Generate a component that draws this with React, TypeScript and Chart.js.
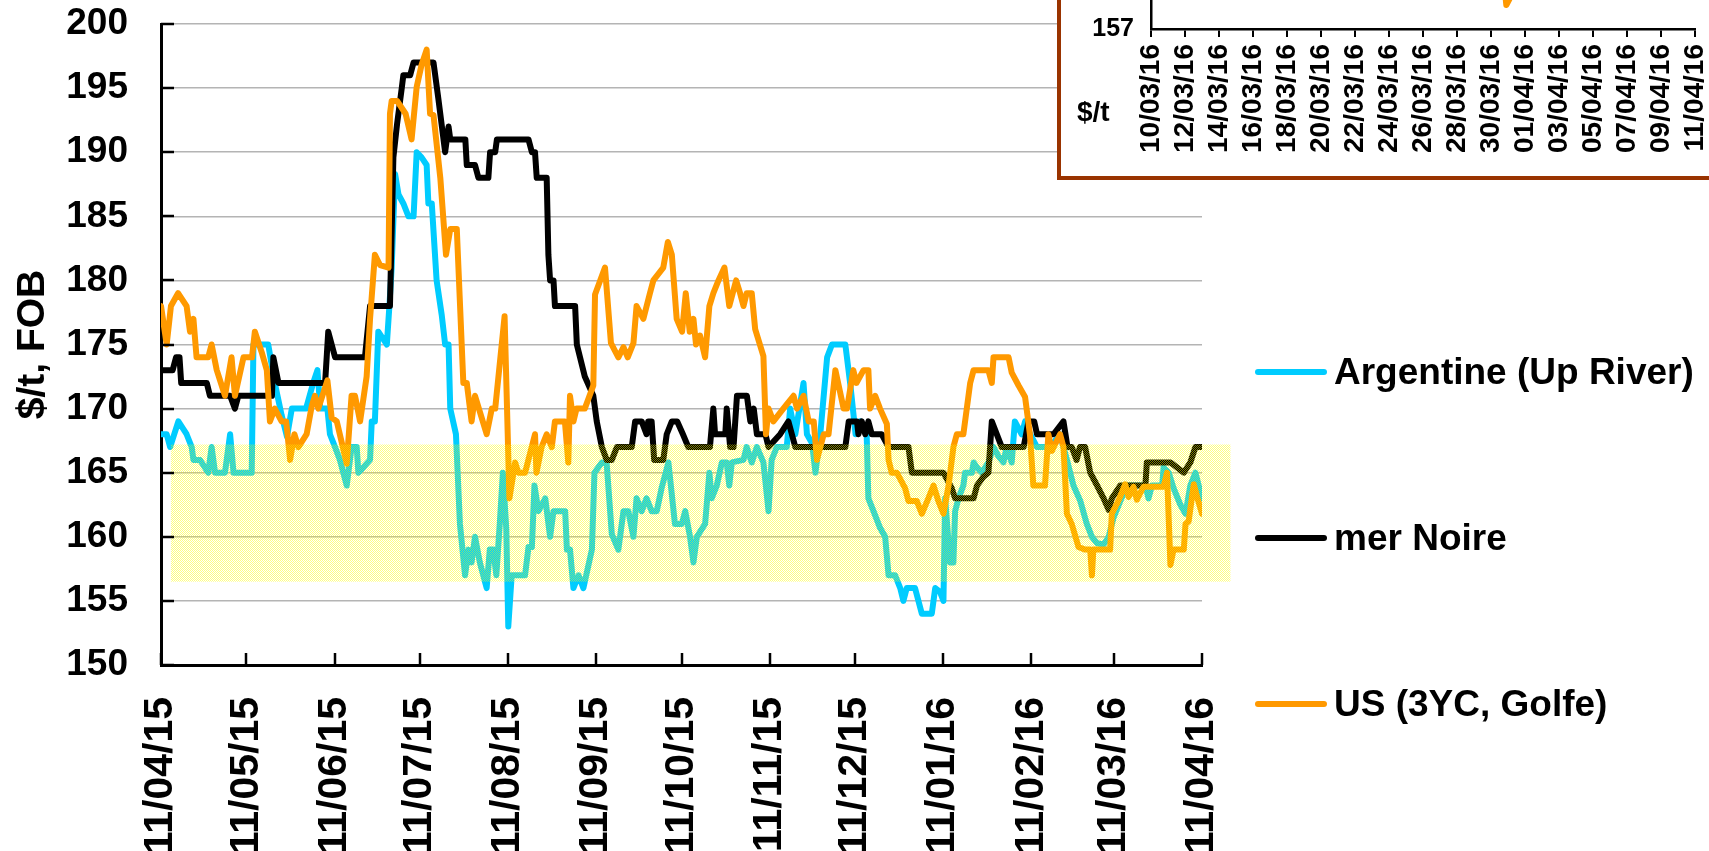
import React, { useEffect, useRef } from 'react';
import { Chart, registerables } from 'chart.js';

Chart.register(...registerables);

const FONT = "'Liberation Sans', Arial, Helvetica, sans-serif";

// ---- Main chart axis data (x = days since 11/04/15) ----
const monthTickDays = [0, 30, 61, 91, 122, 153, 183, 214, 244, 275, 306, 335, 366];
const monthTickLabels = [
  '11/04/15', '11/05/15', '11/06/15', '11/07/15', '11/08/15', '11/09/15', '11/10/15',
  '11/11/15', '11/12/15', '11/01/16', '11/02/16', '11/03/16', '11/04/16',
];
const yMin = 150;
const yMax = 200;
const yStep = 5;

const seriesNames = ['Argentine (Up River)', 'mer Noire', 'US (3YC, Golfe)'];
const seriesColors = ['#00CCFF', '#000000', '#FF9900'];

// [day, $/t]
const argentinePoints: [number, number][] = [
  [0, 168], [2, 168], [3.2, 167], [6.1, 169], [9, 168], [10.8, 167], [11.4, 166], [13.7, 166], [16.6, 165], [17.8, 167],
  [19, 165], [22.5, 165], [24.3, 168], [25.5, 165], [31.9, 165], [32.5, 175], [37.7, 175], [40, 172], [42.4, 169.5], [44.3, 167.8],
  [46, 170], [51, 170], [53.5, 172], [55, 173], [56, 170], [58.5, 170], [59.4, 168], [61.2, 167], [62.9, 166], [65.3, 164],
  [67, 167], [68.8, 167], [69.4, 165], [71.1, 165.4], [73.5, 166], [74.1, 169], [75.2, 169], [76.4, 176], [78.2, 175.4], [79.4, 175],
  [80.3, 178], [81.1, 181], [82.3, 188.3], [83.5, 186.7], [85.2, 186], [87, 185], [88.8, 185], [89.9, 190], [91.6, 189.6], [93.4, 189],
  [94, 186], [95.2, 186], [96.9, 180], [98.7, 177.3], [99.9, 175], [101.1, 175], [101.7, 170], [103.7, 168], [105.1, 161], [106.9, 157],
  [108.1, 159], [109.2, 158], [110.4, 160], [112.1, 158], [114.5, 156], [115.6, 159], [116.8, 159], [117.9, 157], [119.1, 161], [120.2, 165],
  [121.4, 160.6], [122.1, 153], [123.3, 157], [128, 157], [129.2, 159.2], [130.4, 159.2], [131.3, 164], [132.7, 162], [135.1, 163], [136.8, 160],
  [138, 162], [142.1, 162], [142.7, 159], [143.8, 159], [145, 156], [146.8, 157], [148.5, 156], [151.5, 159], [152.4, 165], [155, 165.8],
  [156.7, 165.7], [158.5, 160.2], [160.8, 159], [162.6, 162], [164.3, 162], [166.1, 160], [167.2, 163], [169, 162], [170.7, 163], [172.5, 162],
  [174.3, 162], [176, 163.8], [178.4, 165.8], [180.7, 161], [183.1, 161], [184.3, 162], [186, 160], [187.2, 158], [188.4, 160], [191.3, 161],
  [192.8, 165], [193.6, 163], [195.4, 164], [197.2, 165.8], [198.9, 165.8], [199.8, 164], [200.7, 165.8], [204.8, 166], [205.9, 167], [207.7, 165.8],
  [209.5, 167], [211.8, 165.8], [213.6, 162], [214.7, 166], [216.5, 167], [220, 167], [221.2, 170], [223, 168], [225.9, 172], [227.1, 168],
  [228.9, 167.3], [230.1, 165], [231.8, 168], [234.2, 174], [235.9, 175], [240.6, 175], [242.4, 171.8], [244.2, 168], [245.8, 169], [248.1, 168],
  [248.7, 163], [250.5, 162], [252.8, 160.7], [254.6, 160], [255.8, 157], [258.1, 157], [259.9, 156], [261, 155], [262.2, 156], [265.1, 156],
  [267.5, 154], [271, 154], [272.2, 156], [273.9, 155.7], [275.1, 155], [275.7, 163], [277.4, 158], [278.6, 158], [279.2, 162], [280.4, 163],
  [282.1, 164], [282.7, 165], [285.1, 165], [285.7, 165.8], [286.9, 165.4], [288.6, 165], [290.9, 165.8], [292.7, 167], [294.4, 166.3], [296.2, 165.8],
  [297.3, 167], [299.1, 165.8], [300.2, 169], [302.6, 168], [303.8, 169], [305.6, 168], [308, 167], [312.6, 167], [316.1, 168], [318.5, 166],
  [320.8, 164], [323.2, 162.8], [325.5, 161], [327.3, 160], [329.1, 159.5], [331.4, 159.4], [333.2, 160], [334.9, 161.5], [337.3, 162.8], [339.6, 164],
  [343.1, 164], [346.1, 164], [347.2, 163], [348.4, 164], [352, 164], [352.5, 165.4], [354.3, 165], [356, 163.8], [358.4, 162.5], [360.2, 161.8],
  [361.9, 164], [363.7, 165], [366, 163],
];

const merNoirePoints: [number, number][] = [
  [0, 173], [4.1, 173], [5.3, 174], [6.5, 174], [7.1, 172], [16.1, 172], [17.2, 171], [24.3, 171], [26, 170], [27.2, 171],
  [39, 171], [39.5, 174], [41.3, 172], [57.7, 172], [58.8, 176], [60, 175], [61.2, 174], [71.7, 174], [73.5, 178], [80.5, 178],
  [81.7, 189.6], [83, 192.2], [84.7, 195.1], [85.2, 196], [87.6, 196], [88.8, 197], [95.8, 197], [97.5, 194.2], [99.9, 190], [101.1, 192],
  [101.7, 191], [107, 191], [107.5, 189], [110.4, 189], [111.6, 188], [115.1, 188], [115.7, 190], [117.5, 190], [118.1, 191], [129.2, 191],
  [130.4, 190], [131.5, 190], [132.1, 188], [135.6, 188], [136.2, 182], [136.8, 180], [138, 180], [138.5, 178], [145.6, 178], [146.2, 175],
  [149, 172.5], [152, 171], [153.2, 169], [155, 167], [156.7, 166], [158.5, 166], [160.3, 167], [165.5, 167], [166.7, 169], [169, 169],
  [170.7, 168], [171.3, 169], [172.5, 169], [173.4, 166], [176.6, 166], [177.8, 168], [179.6, 169], [181.5, 169], [183.5, 168], [185.4, 167],
  [193, 167], [194.2, 170], [194.8, 168], [198.4, 168], [198.9, 170], [200.1, 167], [201.3, 167], [202.5, 171], [206, 171], [207.2, 169],
  [208.4, 170], [209.5, 168], [212.5, 168], [213.6, 167], [217.7, 168], [220.6, 169], [223, 167], [240.6, 167], [241.8, 169], [244.7, 169],
  [245.2, 168], [246.4, 169], [247.6, 168], [248.7, 169], [249.9, 168], [253.4, 168], [255.8, 167], [262.8, 167], [264, 165], [275.1, 165],
  [278, 163.8], [279.2, 163], [285.7, 163], [286.9, 164], [289.2, 164.7], [290.9, 165], [292.1, 169], [295.6, 167], [303.3, 167], [305, 169],
  [307, 169], [308, 168], [313.8, 168], [317.3, 169], [318.7, 167], [320.2, 167], [321.9, 166], [323.1, 167], [324.9, 167], [326.7, 165],
  [329.1, 164], [331.4, 163], [333.2, 162.1], [334.3, 163], [337.3, 164], [346.1, 164], [346.6, 165.8], [354.9, 165.8], [359.6, 165], [361.9, 165.8],
  [363.7, 167], [366, 167],
];

const usGolfePoints: [number, number][] = [
  [0, 178], [2, 175], [3.5, 178], [6, 179], [9, 178], [10.2, 176], [11.4, 177], [12.5, 174], [16.6, 174], [17.8, 175],
  [19.6, 173], [22.5, 171], [24.8, 174], [26, 171], [29, 174], [32, 174], [33, 176], [35.4, 174.4], [37.2, 173], [38.3, 169],
  [40, 170], [42.4, 169], [44, 169], [45.4, 166], [46.9, 168], [48.3, 167], [51.2, 168], [53, 170.2], [54.1, 171], [55.3, 170],
  [58.5, 172.2], [60, 169.3], [61.8, 169], [65.3, 165.7], [67, 171], [68.2, 171], [70, 169], [72.3, 172.5], [73.5, 177], [75.2, 182],
  [77, 181.2], [80, 181], [80.5, 193], [81.1, 194], [83, 194], [86, 193], [88.1, 191], [89.9, 195.1], [91.6, 196.8], [93.4, 198],
  [94.6, 193], [95.8, 192.9], [98.2, 188], [100.2, 182], [101.7, 184], [104, 184], [106.3, 172], [107.5, 172], [109.2, 169], [110.4, 171],
  [114.5, 168], [116.3, 170], [117.5, 170], [120.8, 177.2], [122.5, 163], [124.5, 165.8], [125.6, 165], [128, 165], [131.5, 168], [132, 165],
  [133.8, 167], [135.6, 168], [137.4, 167], [138.5, 169], [142, 169], [143.2, 165.8], [143.8, 171], [145, 169], [146.1, 170], [149, 170],
  [152, 171.8], [152.6, 178.9], [156.1, 181], [158.2, 175.1], [160.8, 174], [162.6, 174.8], [164.1, 174], [166.1, 175.1], [167.2, 178], [169.6, 177],
  [171.9, 179], [173.1, 180], [176.6, 181], [178.2, 183], [179.6, 182], [181.3, 177], [183.2, 176], [184.5, 179], [185.9, 176], [187.2, 177],
  [188.1, 175], [189.5, 175.7], [191.3, 174], [192.8, 178], [194.2, 179], [196, 180], [198.1, 181], [199.8, 178], [202.2, 180], [203.6, 179],
  [204.8, 178], [205.9, 179], [207.7, 179], [208.9, 176.2], [211.8, 174.1], [212.7, 168], [213.6, 170], [215.3, 169], [218.8, 170], [222.4, 171],
  [223.6, 170], [225.9, 171], [227.7, 169], [229.5, 169], [230.6, 166], [233, 168], [234.7, 168], [237.1, 173], [240, 170], [241.2, 170],
  [243.4, 173], [244.5, 172], [247, 173], [248.7, 173], [249.3, 170], [251.1, 171], [252.8, 170], [255.2, 168.8], [255.8, 166], [256.9, 165],
  [258.7, 165], [261.6, 163.8], [262.8, 162.8], [265.7, 162.8], [267.5, 161.8], [269.8, 163], [271.6, 164], [273.3, 162.8], [275.1, 161.8], [276.9, 164],
  [278.6, 167], [279.8, 168], [282.1, 168], [283.3, 170], [284.5, 172], [285.7, 173], [290.9, 173], [292.1, 172], [292.7, 174], [298, 174],
  [299.1, 172.8], [301.5, 171.8], [303.8, 170.9], [305.5, 168], [306.7, 164], [310.8, 164], [312, 168], [313.2, 166.7], [316.1, 168], [317.3, 167],
  [318.5, 161.8], [320.2, 161], [322.6, 159.2], [324.9, 159], [326.7, 159], [327.3, 157], [327.8, 159], [333.7, 159], [334.3, 161.8], [336.6, 162.8],
  [339, 164.1], [340.2, 163.1], [341.9, 163.9], [343.1, 162.9], [345.4, 163.9], [352.5, 163.9], [353.7, 165], [354.9, 157.8], [356, 159], [359.6, 159],
  [360.2, 161], [361.3, 161.2], [363.1, 164.1], [364.3, 163.1], [366, 161.8],
];

// highlighted band (days, $/t)
const bandDays = [3.5, 376];
const bandLimits = [156.5, 167.2];

// ---- Inset axis data ----
const insetTickDays = [334, 336, 338, 340, 342, 344, 346, 348, 350, 352, 354, 356, 358, 360, 362, 364, 366];
const insetTickLabels = [
  '10/03/16', '12/03/16', '14/03/16', '16/03/16', '18/03/16', '20/03/16', '22/03/16', '24/03/16', '26/03/16',
  '28/03/16', '30/03/16', '01/04/16', '03/04/16', '05/04/16', '07/04/16', '09/04/16', '11/04/16',
];
const insetYMin = 157;
const insetYMax = 168;

const allSeries = [argentinePoints, merNoirePoints, usGolfePoints];
const drawOrder = [2, 1, 0];

function makeDatasets() {
  return allSeries.map((pts, i) => ({
    label: seriesNames[i],
    data: pts.map(([d, v]) => ({ x: d, y: v })),
    borderColor: seriesColors[i],
    backgroundColor: seriesColors[i],
    borderWidth: 6,
    pointRadius: 0,
    tension: 0,
    borderJoinStyle: 'round' as const,
    borderCapStyle: 'round' as const,
    order: drawOrder[i],
  }));
}

const bandPlugin = {
  id: 'band',
  afterDatasetsDraw(chart: any) {
    const { ctx, scales } = chart;
    const x = scales.x;
    const y = scales.y;
    const pc = document.createElement('canvas');
    pc.width = 2;
    pc.height = 2;
    const pctx = pc.getContext('2d')!;
    pctx.fillStyle = 'rgba(255,255,0,0.5)';
    pctx.fillRect(0, 0, 1, 1);
    pctx.fillRect(1, 1, 1, 1);
    const pattern = ctx.createPattern(pc, 'repeat');
    const x0 = x.getPixelForValue(bandDays[0]);
    const x1 = x.getPixelForValue(bandDays[1]);
    const y0 = y.getPixelForValue(bandLimits[1]);
    const y1 = y.getPixelForValue(bandLimits[0]);
    ctx.save();
    ctx.fillStyle = pattern;
    ctx.fillRect(x0, y0, x1 - x0, y1 - y0);
    ctx.restore();
  },
};

const innerTicksPlugin = {
  id: 'innerTicks',
  afterDraw(chart: any) {
    const { ctx, chartArea, scales } = chart;
    ctx.save();
    ctx.strokeStyle = '#000';
    ctx.lineWidth = 2.5;
    ctx.beginPath();
    scales.y.ticks.forEach((t: any) => {
      const py = Math.round(scales.y.getPixelForValue(t.value));
      ctx.moveTo(chartArea.left, py);
      ctx.lineTo(chartArea.left + 13, py);
    });
    scales.x.ticks.forEach((t: any) => {
      const px = Math.round(scales.x.getPixelForValue(t.value));
      ctx.moveTo(px, chartArea.bottom);
      ctx.lineTo(px, chartArea.bottom - 12);
    });
    ctx.stroke();
    ctx.restore();
  },
};

const legendPlugin = {
  id: 'customLegend',
  afterDraw(chart: any) {
    const { ctx } = chart;
    const ys = [372, 538, 704];
    ctx.save();
    chart.data.datasets.forEach((ds: any, i: number) => {
      ctx.strokeStyle = ds.borderColor;
      ctx.lineWidth = 6;
      ctx.lineCap = 'round';
      ctx.beginPath();
      ctx.moveTo(1258, ys[i]);
      ctx.lineTo(1324, ys[i]);
      ctx.stroke();
      ctx.fillStyle = '#000';
      ctx.font = `bold 37px ${FONT}`;
      ctx.textBaseline = 'middle';
      ctx.textAlign = 'left';
      ctx.fillText(ds.label, 1334, ys[i] + 2);
    });
    ctx.restore();
  },
};

export default function App() {
  const mainRef = useRef<HTMLCanvasElement>(null);
  const insetRef = useRef<HTMLCanvasElement>(null);

  useEffect(() => {
    const main = new Chart(mainRef.current!, {
      type: 'line',
      data: { datasets: makeDatasets() as any },
      options: {
        animation: false,
        responsive: false,
        maintainAspectRatio: false,
        layout: { padding: { top: 24, right: 507, left: 0, bottom: 0 } },
        plugins: { legend: { display: false }, tooltip: { enabled: false }, title: { display: false } },
        scales: {
          x: {
            type: 'linear',
            min: monthTickDays[0],
            max: monthTickDays[monthTickDays.length - 1],
            afterBuildTicks: (s: any) => {
              s.ticks = monthTickDays.map((v) => ({ value: v }));
            },
            afterFit: (s: any) => {
              s.height = 186;
            },
            grid: { display: true, drawOnChartArea: false, drawTicks: false },
            border: { display: true, color: '#000', width: 3 },
            ticks: {
              autoSkip: false,
              minRotation: 90,
              maxRotation: 90,
              padding: 32,
              color: '#000',
              font: { family: FONT, size: 41, weight: 'bold' },
              callback: (v: any) => {
                const i = monthTickDays.indexOf(Number(v));
                return i >= 0 ? monthTickLabels[i] : '';
              },
            },
          },
          y: {
            min: yMin,
            max: yMax,
            afterFit: (s: any) => {
              s.width = 161;
            },
            ticks: {
              stepSize: yStep,
              padding: 0,
              color: '#000',
              font: { family: FONT, size: 37, weight: 'bold' },
            },
            grid: { color: '#b4b4b4', lineWidth: 1.5, drawTicks: true, tickLength: 33, tickColor: 'rgba(0,0,0,0)' },
            border: { display: true, color: '#000', width: 3 },
            title: {
              display: true,
              text: '$/t, FOB',
              color: '#000',
              font: { family: FONT, size: 39, weight: 'bold' },
              padding: { top: 10, bottom: 0 },
            },
          },
        },
      } as any,
      plugins: [bandPlugin, innerTicksPlugin, legendPlugin],
    });

    const inset = new Chart(insetRef.current!, {
      type: 'line',
      data: { datasets: makeDatasets() as any },
      options: {
        animation: false,
        responsive: false,
        maintainAspectRatio: false,
        layout: { padding: { top: 20, right: 66, left: 0, bottom: 0 } },
        plugins: { legend: { display: false }, tooltip: { enabled: false }, title: { display: false } },
        scales: {
          x: {
            type: 'linear',
            min: insetTickDays[0],
            max: insetTickDays[insetTickDays.length - 1],
            afterBuildTicks: (s: any) => {
              s.ticks = insetTickDays.map((v) => ({ value: v }));
            },
            afterFit: (s: any) => {
              s.height = 147;
            },
            grid: { drawOnChartArea: false, drawTicks: true, tickLength: 8, color: '#000', lineWidth: 2 },
            border: { display: true, color: '#000', width: 2.5 },
            ticks: {
              autoSkip: false,
              minRotation: 90,
              maxRotation: 90,
              padding: 7,
              color: '#000',
              font: { family: FONT, size: 28, weight: 'bold' },
              callback: (v: any) => {
                const i = insetTickDays.indexOf(Number(v));
                return i >= 0 ? insetTickLabels[i] : '';
              },
            },
          },
          y: {
            min: insetYMin,
            max: insetYMax,
            afterFit: (s: any) => {
              s.width = 90;
            },
            ticks: {
              stepSize: 1,
              padding: 0,
              color: '#000',
              font: { family: FONT, size: 25, weight: 'bold' },
            },
            grid: { drawOnChartArea: false, drawTicks: true, tickLength: 17, tickColor: 'rgba(0,0,0,0)' },
            border: { display: true, color: '#000', width: 2.5 },
          },
        },
      } as any,
    });

    return () => {
      main.destroy();
      inset.destroy();
    };
  }, []);

  return (
    <div
      style={{
        position: 'absolute',
        left: 0,
        top: 0,
        width: 1709,
        height: 851,
        overflow: 'hidden',
        background: '#fff',
      }}
    >
      <canvas
        ref={mainRef}
        width={1709}
        height={851}
        style={{ position: 'absolute', left: 0, top: 0, width: 1709, height: 851 }}
      />
      <div
        style={{
          position: 'absolute',
          left: 1057,
          top: -30,
          width: 700,
          height: 210,
          boxSizing: 'border-box',
          border: '4px solid #993300',
          background: '#fff',
        }}
      />
      <canvas
        ref={insetRef}
        width={700}
        height={496}
        style={{ position: 'absolute', left: 1061, top: -320, width: 700, height: 496 }}
      />
      <div
        style={{
          position: 'absolute',
          left: 1077,
          top: 96,
          font: `bold 28px ${FONT}`,
          lineHeight: '32px',
          color: '#000',
        }}
      >
        $/t
      </div>
    </div>
  );
}
